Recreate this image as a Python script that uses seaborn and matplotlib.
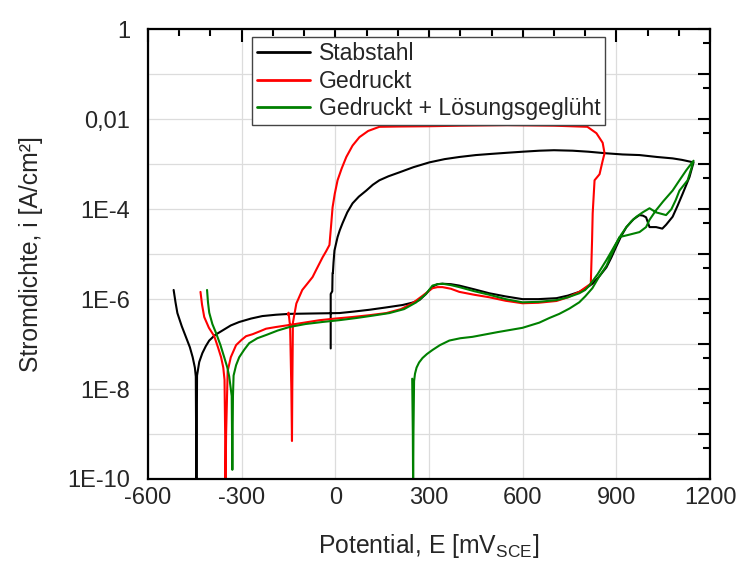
import numpy as np
import pandas as pd
import matplotlib
matplotlib.use("Agg")
import matplotlib.pyplot as plt
from matplotlib.ticker import FixedLocator, FuncFormatter, MultipleLocator
import seaborn as sns

# Potentiodynamic polarisation curves: potential E (mV vs. SCE), current density i (A/cm^2)
stab_E = [-518, -512, -506, -492, -478, -466, -457, -450, -447, -446, -445, -444, -443,
          -436, -426, -415, -404, -385, -362, -335, -308, -270, -234, -190, -147, -70,
          13, 60, 109, 160, 215, 245, 269, 290, 311, 327, 343, 370, 397, 445, 493, 545,
          599, 650, 708, 745, 781, 803, 823, 845, 868, 884, 899, 915, 932, 955, 974,
          985, 995, 1006, 1027, 1047, 1059, 1080, 1096, 1112, 1134, 1147,
          1110, 1080, 1030, 974, 920, 868, 810, 760, 700, 653, 600, 550, 500, 450, 397,
          350, 301, 250, 205, 170, 141, 120, 99, 75, 55, 38, 23, 14, 7, 2, -3, -6, -8,
          -9, -10, -15, -15, -15]
stab_i = [1.6e-6, 8.5e-7, 4.9e-7, 2.5e-7, 1.4e-7, 8.5e-8, 5.1e-8, 3e-8, 1.9e-8, 1e-9,
          5e-11, 1e-9, 2e-8, 4e-8, 6.3e-8, 9e-8, 1.2e-7, 1.6e-7, 2.0e-7, 2.6e-7, 3.1e-7,
          3.7e-7, 4.2e-7, 4.5e-7, 4.7e-7, 4.8e-7, 4.9e-7, 5.3e-7, 5.8e-7, 6.5e-7, 7.4e-7,
          8.3e-7, 9.5e-7, 1.3e-6, 1.9e-6, 2.15e-6, 2.2e-6, 2.15e-6, 2.0e-6, 1.65e-6,
          1.35e-6, 1.15e-6, 1.0e-6, 1.0e-6, 1.05e-6, 1.2e-6, 1.45e-6, 1.75e-6, 2.2e-6,
          3.2e-6, 5.1e-6, 8.5e-6, 1.45e-5, 2.5e-5, 4.0e-5, 6.0e-5, 7.4e-5, 7.2e-5,
          6.6e-5, 4.0e-5, 4.0e-5, 3.7e-5, 4.5e-5, 6.8e-5, 1.2e-4, 2.2e-4, 5.2e-4, 1.1e-3,
          1.25e-3, 1.35e-3, 1.45e-3, 1.6e-3, 1.65e-3, 1.75e-3, 1.9e-3, 2.0e-3, 2.05e-3,
          2.0e-3, 1.9e-3, 1.8e-3, 1.7e-3, 1.6e-3, 1.45e-3, 1.3e-3, 1.1e-3, 8.6e-4,
          6.6e-4, 5.4e-4, 4.4e-4, 3.5e-4, 2.6e-4, 1.9e-4, 1.35e-4, 8.5e-5, 4.9e-5,
          3.4e-5, 2.4e-5, 1.7e-5, 1.2e-5, 6.5e-6, 3.8e-6, 3.8e-6, 1.5e-6, 1.3e-6, 1e-7,
          8e-8]

ged_E = [-432, -427, -420, -405, -388, -376, -366, -359, -355, -353, -352, -350, -345,
         -335, -318, -300, -286, -265, -240, -222, -190, -157, -100, -51, 0, 54, 110,
         163, 210, 247, 280, 311, 327, 343, 370, 397, 445, 493, 545, 599, 650, 708,
         745, 781, 800, 818, 822, 824, 830, 846, 856, 862,
         856, 836, 807, 700, 550, 400, 300, 200, 141, 105, 77, 55, 35, 20, 7, -2, -9,
         -14, -19, -30, -41, -62, -73, -90, -106, -125, -136, -138, -139, -141, -145,
         -150, -152]
ged_i = [1.45e-6, 7.5e-7, 4.0e-7, 2.3e-7, 1.5e-7, 8.5e-8, 5.1e-8, 3e-8, 1.6e-8, 1e-9,
         5e-11, 1e-9, 2.5e-8, 5.1e-8, 9.5e-8, 1.25e-7, 1.5e-7, 1.66e-7, 1.95e-7,
         2.2e-7, 2.4e-7, 2.6e-7, 3.0e-7, 3.4e-7, 3.7e-7, 4.0e-7, 4.4e-7, 4.9e-7,
         6.0e-7, 8.1e-7, 1.2e-6, 1.75e-6, 1.85e-6, 1.85e-6, 1.7e-6, 1.45e-6, 1.25e-6,
         1.1e-6, 9.2e-7, 8.1e-7, 8.3e-7, 9.1e-7, 1.1e-6, 1.45e-6, 1.8e-6, 2.2e-6,
         2e-5, 8.1e-5, 4.4e-4, 6e-4, 1.2e-3, 1.75e-3,
         3.0e-3, 4.9e-3, 6.8e-3, 7.2e-3, 7.4e-3, 7.2e-3, 7.0e-3, 6.9e-3, 6.8e-3,
         5.5e-3, 4.0e-3, 2.6e-3, 1.45e-3, 8e-4, 4.4e-4, 2.2e-4, 1.1e-4, 4.1e-5,
         1.6e-5, 1.15e-5, 8.5e-6, 4.4e-6, 3.1e-6, 2.2e-6, 1.6e-6, 8e-7, 3e-7, 1e-8,
         7e-10, 1e-8, 2.5e-7, 5e-7, 4.5e-7]

lsg_E = [-411, -408, -404, -394, -382, -368, -356, -346, -340, -332, -330, -328, -326,
         -318, -308, -292, -276, -250, -221, -185, -147, -95, -42, 12, 67, 120, 173,
         220, 259, 290, 311, 327, 343, 370, 397, 445, 493, 545, 599, 650, 708, 745,
         781, 800, 813, 840, 868, 884, 899, 915, 932, 948, 964, 984, 1006, 1027, 1059,
         1076, 1090, 1102, 1128, 1140, 1147,
         1124, 1100, 1080, 1050, 1027, 1006, 995, 974, 940, 910, 890, 868, 845, 823,
         800, 781, 750, 717, 685, 653, 599, 520, 439, 400, 365, 335, 311, 293, 279,
         268, 260, 255, 252, 250, 249, 248, 246]
lsg_i = [1.6e-6, 8.5e-7, 5e-7, 2.8e-7, 1.75e-7, 9.5e-8, 5.1e-8, 3.0e-8, 1.9e-8, 7e-9,
         1.6e-10, 7e-9, 2e-8, 3.4e-8, 5.1e-8, 7.5e-8, 1.05e-7, 1.35e-7, 1.6e-7, 2.0e-7,
         2.4e-7, 2.8e-7, 3.1e-7, 3.4e-7, 3.8e-7, 4.3e-7, 4.9e-7, 6.0e-7, 8.5e-7,
         1.3e-6, 2.0e-6, 2.15e-6, 2.2e-6, 2.05e-6, 1.85e-6, 1.5e-6, 1.25e-6, 1.0e-6,
         8.5e-7, 8.7e-7, 9.5e-7, 1.1e-6, 1.35e-6, 1.6e-6, 2.0e-6, 3.6e-6, 7.4e-6,
         1.15e-5, 1.75e-5, 2.7e-5, 4.0e-5, 5.4e-5, 6.8e-5, 8.5e-5, 1.05e-4, 8.5e-5,
         7.4e-5, 1.0e-4, 1.6e-4, 2.6e-4, 4.4e-4, 8.1e-4, 1.2e-3,
         7.4e-4, 4.2e-4, 2.6e-4, 1.5e-4, 9.5e-5, 5.8e-5, 4.0e-5, 3.1e-5, 2.7e-5,
         2.4e-5, 1.2e-5, 5.5e-6, 3.2e-6, 1.75e-6, 1.15e-6, 8.5e-7, 6.2e-7, 4.7e-7,
         3.8e-7, 3.0e-7, 2.3e-7, 1.85e-7, 1.45e-7, 1.35e-7, 1.2e-7, 9.5e-8, 7.4e-8,
         6e-8, 4.9e-8, 3.9e-8, 3e-8, 2.2e-8, 1.5e-8, 1e-9, 5e-11, 1e-9, 1.7e-8]

labels = ["Stabstahl", "Gedruckt", "Gedruckt + Lösungsgeglüht"]
colors = ["#000000", "#ff0000", "#008000"]

y_ticks = [1, 1e-2, 1e-4, 1e-6, 1e-8, 1e-10]
y_tick_labels = ["1", "0,01", "1E-4", "1E-6", "1E-8", "1E-10"]
x_ticks = [-600, -300, 0, 300, 600, 900, 1200]

frames = []
for name, E, i in zip(labels, [stab_E, ged_E, lsg_E], [stab_i, ged_i, lsg_i]):
    frames.append(pd.DataFrame({"E": E, "i": i, "Probe": name}))
data = pd.concat(frames, ignore_index=True)

sns.set_theme(style="white")
plt.rcParams["font.family"] = ["Liberation Sans", "DejaVu Sans"]
plt.rcParams["mathtext.default"] = "regular"

fig = plt.figure(figsize=(7.42, 5.72), dpi=100)
ax = fig.add_axes([0.1995, 0.1626, 0.957 - 0.1995, 0.9487 - 0.1626])
ax.set_yscale("log")

sns.lineplot(data=data, x="E", y="i", hue="Probe", hue_order=labels,
             palette=colors, sort=False, estimator=None, units="Probe",
             linewidth=1.5, ax=ax)

ax.set_xlim(-600, 1200)
ax.set_ylim(1e-10, 1)

# axis ticks
ax.xaxis.set_major_locator(FixedLocator(x_ticks))
ax.xaxis.set_minor_locator(MultipleLocator(100))
ax.yaxis.set_major_locator(FixedLocator([10.0 ** k for k in range(-10, 1)]))
ax.yaxis.set_minor_locator(FixedLocator([5 * 10.0 ** k for k in range(-10, 0)]))
lab_map = dict(zip(y_ticks, y_tick_labels))


def fmt_y(v, pos):
    for key, s in lab_map.items():
        if abs(np.log10(v) - np.log10(key)) < 1e-6:
            return s
    return ""


ax.yaxis.set_major_formatter(FuncFormatter(fmt_y))
ax.xaxis.set_major_formatter(FuncFormatter(lambda v, p: f"{int(v)}"))

ax.tick_params(which="both", direction="in", top=True, right=True,
               width=1.5, color="black", labelsize=17)
ax.tick_params(axis="x", which="major", pad=6)
ax.tick_params(axis="y", which="major", pad=13)
ax.tick_params(which="major", length=9)
ax.tick_params(which="minor", length=5)
for s in ax.spines.values():
    s.set_linewidth(1.6)
    s.set_color("black")

ax.grid(True, which="major", color="#dcdcdc", linewidth=0.9)
ax.set_axisbelow(True)

ax.set_xlabel("Potential, E [mV$_{SCE}$]", fontsize=17.8, labelpad=16)
ax.set_ylabel("Stromdichte, i [A/cm²]", fontsize=17.8, labelpad=17)

leg = ax.legend(loc="upper left", bbox_to_anchor=(0.185, 0.982), borderaxespad=0,
                fontsize=16.6, frameon=True, fancybox=False, edgecolor="#444444",
                framealpha=1, handlelength=2.3, handletextpad=0.4,
                borderpad=0.2, labelspacing=0.2)
leg.get_frame().set_linewidth(1.0)
for line in leg.get_lines():
    line.set_linewidth(2.0)

fig.savefig("out.png", dpi=100)
